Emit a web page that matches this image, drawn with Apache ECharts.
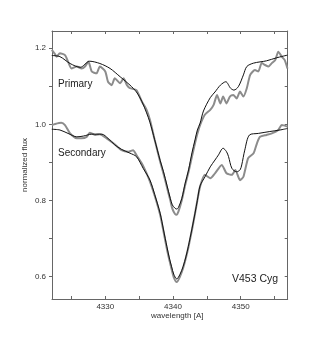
<!DOCTYPE html>
<html><head><meta charset="utf-8">
<script src="https://cdn.jsdelivr.net/npm/echarts@6/dist/echarts.min.js"></script>
<style>html,body{margin:0;padding:0;background:#fff}#c{width:311px;height:340px}</style>
</head><body><div id="c"></div>
<script>
// Primary observed (gray)
var primObsWl = [4322.1,4322.6,4322.8,4323.3,4324.05,4324.5,4325.0,4325.8,4326.5,4327.0,4327.5,4328.0,4328.7,4329.2,4330.0,4330.4,4330.95,4331.4,4332.2,4332.7,4333.2,4333.65,4334.6,4335.4,4336.1,4336.6,4337.3,4338.1,4338.6,4339.1,4339.6,4339.9,4340.3,4340.55,4340.8,4341.3,4341.8,4342.3,4342.8,4343.25,4343.6,4344.0,4344.7,4345.5,4346.0,4346.5,4347.0,4347.4,4347.9,4348.4,4348.9,4349.4,4349.9,4350.4,4350.9,4351.4,4352.1,4352.6,4353.1,4353.6,4354.1,4354.6,4355.1,4355.55,4356.06,4356.5,4356.9];
var primObsFlux = [1.196,1.184,1.178,1.187,1.182,1.165,1.147,1.152,1.147,1.152,1.165,1.139,1.134,1.152,1.139,1.112,1.103,1.121,1.108,1.121,1.103,1.095,1.090,1.060,1.038,1.011,0.959,0.902,0.870,0.835,0.800,0.778,0.764,0.762,0.770,0.800,0.840,0.875,0.915,0.950,0.975,0.998,1.025,1.038,1.051,1.077,1.055,1.073,1.055,1.073,1.077,1.068,1.086,1.073,1.095,1.130,1.143,1.139,1.161,1.156,1.152,1.161,1.169,1.191,1.178,1.169,1.147];
// Primary model (black)
var primModWl = [4322.1,4323.3,4324.8,4326.3,4327.7,4329.2,4330.7,4332.2,4333.65,4334.6,4335.4,4336.1,4336.6,4337.3,4338.1,4338.6,4339.1,4339.6,4339.9,4340.3,4340.55,4340.8,4341.3,4341.8,4342.3,4342.8,4343.25,4343.6,4344.0,4344.5,4345.5,4346.2,4347.0,4347.8,4348.5,4349.0,4349.65,4350.4,4350.9,4351.9,4353.8,4355.3,4356.9];
var primModFlux = [1.181,1.178,1.160,1.150,1.166,1.160,1.147,1.125,1.103,1.085,1.060,1.030,1.005,0.959,0.905,0.875,0.840,0.805,0.788,0.779,0.777,0.781,0.805,0.845,0.880,0.925,0.959,0.985,1.003,1.035,1.070,1.085,1.103,1.112,1.095,1.090,1.099,1.130,1.152,1.161,1.167,1.175,1.182];
// Secondary observed (gray)
var secObsWl = [4322.1,4322.6,4323.5,4324.05,4324.8,4325.8,4326.5,4327.25,4327.7,4328.5,4329.2,4330.2,4331.2,4332.4,4333.4,4334.1,4334.6,4335.4,4336.1,4336.6,4337.3,4338.1,4338.6,4339.1,4339.5,4339.8,4340.1,4340.55,4341.0,4341.5,4341.9,4342.26,4342.8,4343.25,4343.6,4344.0,4344.7,4345.5,4346.2,4347.2,4347.9,4348.7,4349.2,4349.9,4350.4,4351.1,4351.9,4352.4,4352.85,4353.8,4354.6,4355.55,4356.06,4356.9];
var secObsFlux = [0.998,1.001,1.004,0.998,0.976,0.963,0.963,0.967,0.978,0.972,0.974,0.963,0.950,0.932,0.928,0.932,0.919,0.897,0.871,0.849,0.812,0.762,0.718,0.672,0.640,0.618,0.598,0.585,0.598,0.622,0.648,0.675,0.722,0.765,0.800,0.836,0.867,0.858,0.871,0.893,0.871,0.867,0.880,0.853,0.862,0.911,0.924,0.950,0.967,0.972,0.976,0.985,0.998,0.994];
// Secondary model (black)
var secModWl = [4322.1,4323.3,4324.5,4325.8,4326.75,4328.0,4329.5,4330.4,4331.4,4332.4,4333.65,4334.6,4335.6,4336.6,4337.3,4338.1,4338.6,4339.1,4339.5,4339.8,4340.1,4340.55,4341.0,4341.5,4341.9,4342.26,4342.8,4343.25,4343.6,4344.0,4344.73,4345.5,4346.2,4346.7,4347.4,4347.9,4348.2,4348.7,4349.4,4349.9,4350.15,4350.6,4351.3,4352.6,4354.3,4355.8,4356.9];
var secModFlux = [0.987,0.985,0.976,0.967,0.969,0.974,0.974,0.963,0.946,0.934,0.924,0.915,0.884,0.853,0.815,0.766,0.722,0.678,0.645,0.625,0.606,0.593,0.604,0.626,0.651,0.678,0.725,0.766,0.800,0.838,0.862,0.888,0.906,0.919,0.937,0.928,0.915,0.884,0.875,0.880,0.893,0.932,0.972,0.976,0.981,0.985,0.989];

var xMajor = [4330,4340,4350];
var xMinor = [4325,4330,4335,4340,4345,4350,4355];
var yMajor = [0.6,0.8,1.0,1.2];
var yMinor = [0.6,0.7,0.8,0.9,1.0,1.1,1.2];

function zip(a,b){var r=[];for(var i=0;i<a.length;i++)r.push([a[i],b[i]]);return r;}

var font = 'Liberation Sans, Arial, sans-serif';
var axisCol = '#666';
var chart = echarts.init(document.getElementById('c'), null, {renderer:'canvas'});
chart.setOption({
  animation:false,
  grid:{left:52, right:23.3, top:31, bottom:41},
  xAxis:[
    {type:'value', position:'bottom', min:4322.13, max:4356.94,
     axisLine:{show:true, lineStyle:{color:axisCol, width:1}},
     axisTick:{show:true, inside:true, length:3, customValues:xMinor, lineStyle:{color:axisCol}},
     axisLabel:{customValues:xMajor, margin:4, fontSize:8, color:'#333', fontFamily:font,
       formatter:function(v){return String(Math.round(v));}},
     splitLine:{show:false}},
    {type:'value', position:'top', min:4322.13, max:4356.94,
     axisLine:{show:true, lineStyle:{color:axisCol, width:1}},
     axisTick:{show:true, inside:true, length:3, customValues:xMinor, lineStyle:{color:axisCol}},
     axisLabel:{show:false}, splitLine:{show:false}}
  ],
  yAxis:[
    {type:'value', position:'left', min:0.5403, max:1.2455,
     axisLine:{show:true, lineStyle:{color:axisCol, width:1}},
     axisTick:{show:true, inside:false, length:3, customValues:yMinor, lineStyle:{color:axisCol}},
     axisLabel:{customValues:yMajor, margin:6, fontSize:8, color:'#333', fontFamily:font,
       formatter:function(v){return v.toFixed(1);}},
     splitLine:{show:false},
     name:'normalized flux', nameLocation:'middle', nameGap:23, nameRotate:90, nameMoveOverlap:false,
     nameTextStyle:{fontSize:8, color:'#333', fontFamily:font}},
    {type:'value', position:'right', min:0.5403, max:1.2455,
     axisLine:{show:true, lineStyle:{color:axisCol, width:1}},
     axisTick:{show:true, inside:true, length:3, customValues:yMinor, lineStyle:{color:axisCol}},
     axisLabel:{show:false}, splitLine:{show:false}}
  ],
  series:[
    {type:'line', data:zip(primObsWl,primObsFlux), showSymbol:false, smooth:0.2, z:2,
     lineStyle:{color:'#8c8c8c', width:2}},
    {type:'line', data:zip(secObsWl,secObsFlux), showSymbol:false, smooth:0.2, z:2,
     lineStyle:{color:'#8c8c8c', width:2}},
    {type:'line', data:zip(primModWl,primModFlux), showSymbol:false, smooth:0.3, z:3,
     lineStyle:{color:'#111', width:1}},
    {type:'line', data:zip(secModWl,secModFlux), showSymbol:false, smooth:0.3, z:3,
     lineStyle:{color:'#111', width:1}}
  ],
  graphic:[
    {type:'text', left:58, top:79, style:{text:'Primary', fontSize:10, fill:'#222', fontFamily:font}},
    {type:'text', left:58, top:148, style:{text:'Secondary', fontSize:10, fill:'#222', fontFamily:font}},
    {type:'text', left:232, top:274, style:{text:'V453 Cyg', fontSize:10.5, fill:'#222', fontFamily:font}},
    {type:'text', left:151, top:312, style:{text:'wavelength [A]', fontSize:8, fill:'#333', fontFamily:font}}
  ]
});
</script></body></html>
